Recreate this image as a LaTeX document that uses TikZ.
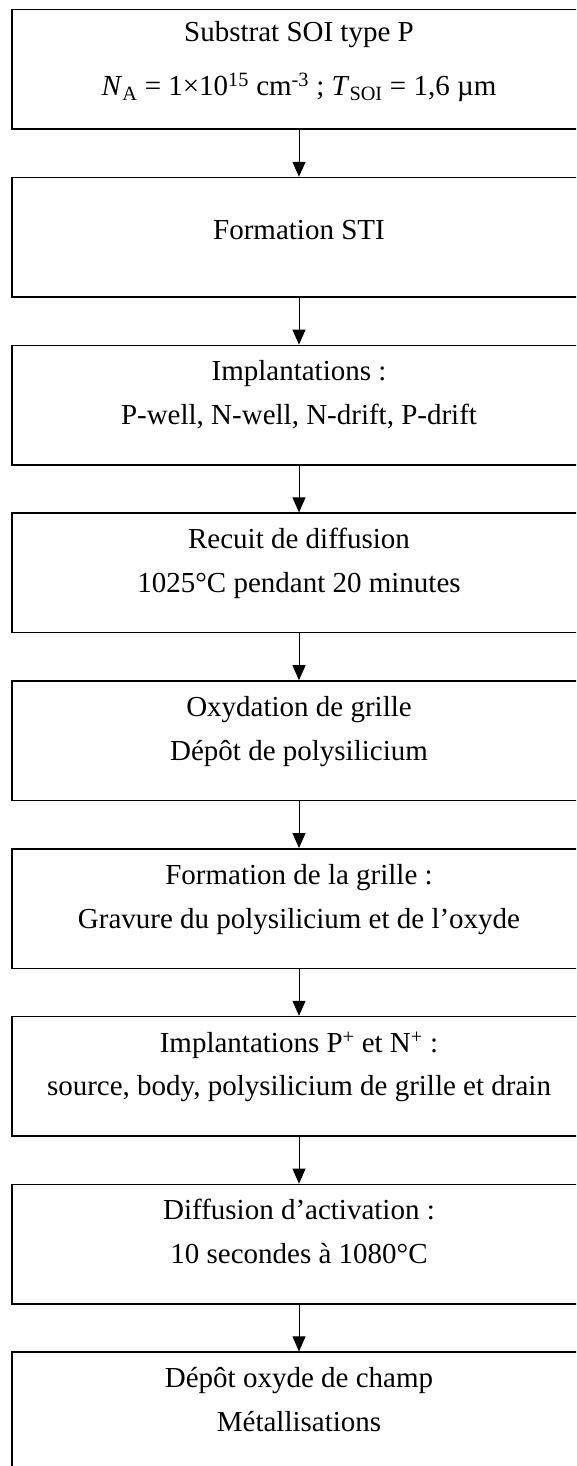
\documentclass[tikz,border=0pt]{standalone}
\usepackage{fontspec}
\setmainfont{Liberation Serif}
\usetikzlibrary{arrows.meta}
\begin{document}
\begin{tikzpicture}[x=1pt,y=-1pt,
  stepbox/.style={draw=black,line width=1.5pt,rectangle,inner sep=0pt,minimum width=600pt,minimum height=119.5pt,anchor=north west},
  txt/.style={font=\fontsize{29}{35}\selectfont,inner sep=0pt,anchor=base},
  arr/.style={draw=black,line width=1pt,-{Triangle[length=15pt,width=13pt]}}]
\useasboundingbox (0,0) rectangle (576,1466);
\clip (0,0) rectangle (576,1466);
\fill[white] (0,0) rectangle (576,1466);
\coordinate (ax) at (299,0);
% boxes
\node[stepbox] (b1) at (11,9) {};
\node[stepbox] (b2) at (11,176.8) {};
\node[stepbox] (b3) at (11,344.6) {};
\node[stepbox] (b4) at (11,512.4) {};
\node[stepbox] (b5) at (11,680.2) {};
\node[stepbox] (b6) at (11,848) {};
\node[stepbox] (b7) at (11,1015.8) {};
\node[stepbox] (b8) at (11,1183.6) {};
\node[stepbox] (b9) at (11,1351.4) {};
% texts
\node[txt] (t1a) at (299,42) {Substrat SOI type P};
\node[txt] (t1b) at (299,96) {\textit{N}\textsubscript{A} = 1×10\textsuperscript{15} cm\textsuperscript{-3} ; \textit{T}\textsubscript{SOI} = 1,6 µm};
\node[txt] (t2) at (299,239) {Formation STI};
\node[txt] (t3a) at (299,380.6) {Implantations :};
\node[txt] (t3b) at (299,424.6) {P-well, N-well, N-drift, P-drift};
\node[txt] (t4a) at (299,548.4) {Recuit de diffusion};
\node[txt] (t4b) at (299,592.4) {1025°C pendant 20 minutes};
\node[txt] (t5a) at (299,716.2) {Oxydation de grille};
\node[txt] (t5b) at (299,760.2) {Dépôt de polysilicium};
\node[txt] (t6a) at (299,884) {Formation de la grille :};
\node[txt] (t6b) at (299,928) {Gravure du polysilicium et de l’oxyde};
\node[txt] (t7a) at (299,1052.8) {Implantations P\textsuperscript{+} et N\textsuperscript{+} :};
\node[txt] (t7b) at (299,1095.8) {source, body, polysilicium de grille et drain};
\node[txt] (t8a) at (299,1219.6) {Diffusion d’activation :};
\node[txt] (t8b) at (299,1263.6) {10 secondes à 1080°C};
\node[txt] (t9a) at (299,1387.4) {Dépôt oxyde de champ};
\node[txt] (t9b) at (299,1431.4) {Métallisations};
% arrows
\draw[arr] (b1.south -| ax) -- (b2.north -| ax);
\draw[arr] (b2.south -| ax) -- (b3.north -| ax);
\draw[arr] (b3.south -| ax) -- (b4.north -| ax);
\draw[arr] (b4.south -| ax) -- (b5.north -| ax);
\draw[arr] (b5.south -| ax) -- (b6.north -| ax);
\draw[arr] (b6.south -| ax) -- (b7.north -| ax);
\draw[arr] (b7.south -| ax) -- (b8.north -| ax);
\draw[arr] (b8.south -| ax) -- (b9.north -| ax);
\end{tikzpicture}
\end{document}
